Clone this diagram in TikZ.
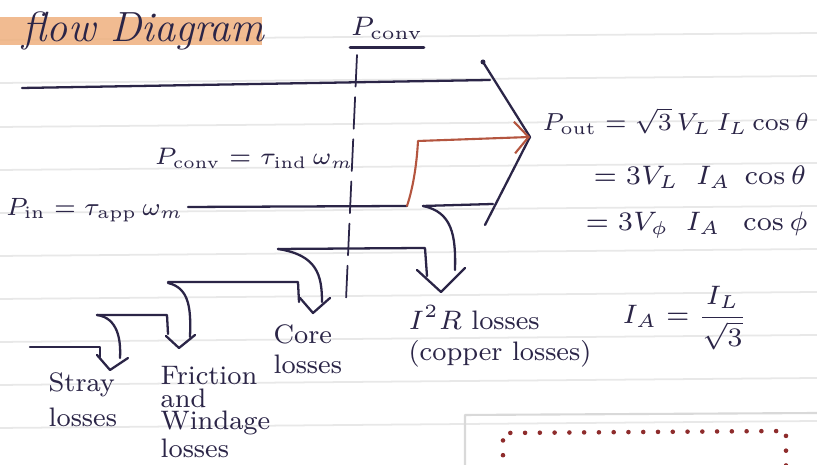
\RequirePackage{fix-cm}
\documentclass[tikz,border=0pt]{standalone}
\usepackage{amsmath}
\usetikzlibrary{arrows.meta}
\definecolor{ink}{HTML}{2B2547}
\definecolor{redink}{HTML}{B4553F}
\definecolor{marker}{HTML}{EFB07E}
\definecolor{dotred}{HTML}{8E2C2C}
\tikzset{
  flow/.style={draw=ink, line width=0.65pt},
  lbl/.style={text=ink, inner sep=0pt, font=\fontsize{7.6}{6.4}\selectfont},
  eqn/.style={text=ink, inner sep=0pt, font=\fontsize{7.6}{9}\selectfont},
  paper/.style={draw=black!9, line width=0.5pt}
}
\begin{document}
\begin{tikzpicture}[x=0.01cm, y=-0.01cm, line join=round, line cap=round]
				\useasboundingbox (0,0) rectangle (817,465);
				\fill[white] (0,0) rectangle (817,465);
				% lignes du cahier
				\foreach \y in {40,83,127,170,213,256,299,342,385,428}
				\draw[paper] (0,\y) -- (817,\y-7);
				% cadre en bas a droite
				\draw[black!15, line width=0.6pt] (465,470) -- (465,415) -- (820,413);
				\draw[dotred, line width=1.3pt, dash pattern=on 0pt off 4.2pt] (503,470) -- (503,433) -- (786,431) -- (786,470);
				% titre
				\fill[marker, opacity=0.85] (0,17) rectangle (262,45);
				\node[text=ink, anchor=base west, inner sep=0pt, font=\large\itshape] (titre) at (22,42) {flow Diagram};
				% ligne de separation P_conv
				\node[eqn, anchor=base] (pconvtop) at (387,36) {$P_{\text{conv}}$};
				\draw[ink, line width=0.9pt] (pconvtop.south west) ++(0,7) coordinate (souA) -- (pconvtop.south east |- souA);
				\coordinate (dashT) at (357,55);
				\coordinate (dashB) at (346,300);
				\draw[ink, line width=0.5pt, dash pattern=on 9pt off 3pt] (dashT) -- (dashB);
				% grande fleche
				\coordinate (topL) at (22,88);
				\coordinate (topR) at (490,80);
				\coordinate (pointe) at (483,62);
				\coordinate (tip) at (530,137);
				\coordinate (basR) at (485,225);
				\coordinate (pinR) at (407,206);
				\coordinate (redC) at (418,141);
				\coordinate (cuL) at (423,206);
				\coordinate (cuR) at (493,204);
				\draw[flow] (topL) -- (topR);
				\draw[flow] (pointe) -- (tip) -- (basR);
				\fill[ink] (pointe) circle (2.5);
				\node[eqn, font=\fontsize{7.1}{9}\selectfont, anchor=east] (pin) at (184,210) {$P_{\text{in}}=\tau_{\text{app}}\,\omega_m$};
				\draw[flow] (pin.east) ++(4,-3) -- (pinR);
				\draw[redink, line width=0.6pt, -{Straight Barb[length=4pt,width=9pt]}] (pinR) .. controls (414,185) and (417,160) .. (redC) -- (tip);
				\draw[flow] (cuL) -- (cuR);
				\node[eqn, font=\fontsize{6.8}{8}\selectfont] (pconv) at (254,158) {$P_{\text{conv}}=\tau_{\text{ind}}\,\omega_m$};
				% pertes
				\coordinate (cuA) at (441,292);
				\draw[flow] (cuL) .. controls (452,212) and (456,235) .. (455,270);
				\draw[flow] (278,249) -- (425,248) -- (427,276);
				\draw[flow] (417,270) -- (cuA) -- (465,268);
				\coordinate (coreA) at (313,313);
				\draw[flow] (278,249) .. controls (317,255) and (322,275) .. (322,302);
				\draw[flow] (168,282) -- (298,282) -- (299,302);
				\draw[flow] (300,298) -- (coreA) -- (330,298);
				\coordinate (fricA) at (179,348);
				\draw[flow] (168,283) .. controls (190,288) and (191,310) .. (190,337);
				\draw[flow] (97,315) -- (167,315) -- (168,334);
				\draw[flow] (166,336) -- (fricA) -- (195,335);
				\coordinate (strayA) at (110,370);
				\draw[flow] (97,315) .. controls (118,318) and (121,340) .. (120,358);
				\draw[flow] (30,347) -- (100,347) -- (100,357);
				\draw[flow] (97,355) -- (strayA) -- (128,358);
				% textes des pertes
				\node[lbl, anchor=north west] (cuT) at (408,305) {$I^2R$ losses};
				\node[lbl, anchor=north west] (cuT2) at (408,340) {(copper losses)};
				\node[lbl, anchor=north west, align=left] (coreT) at (273,324) {Core\\[2pt]losses};
				\node[lbl, anchor=north west, align=left] (fricT) at (160,366) {Friction\\and\\Windage\\losses};
				\node[lbl, anchor=north west, align=left] (strayT) at (48,372) {Stray\\[2pt]losses};
				% puissance de sortie
				\node[eqn, font=\fontsize{7}{9}\selectfont, anchor=west] (pout) at (542,121) {$P_{\text{out}}=\sqrt{3}\,V_L\,I_L\cos\theta$};
				\node[eqn, anchor=west] (eqA) at (593,177) {$=3V_L\;\;I_A\;\cos\theta$};
				\node[eqn, anchor=west] (eqB) at (585,225) {$=3V_\phi\;\;I_A\;\;\cos\phi$};
				\node[eqn, anchor=west] (ia) at (622,318) {$I_A=\dfrac{I_L}{\sqrt{3}}$};
			\end{tikzpicture}
\end{document}
